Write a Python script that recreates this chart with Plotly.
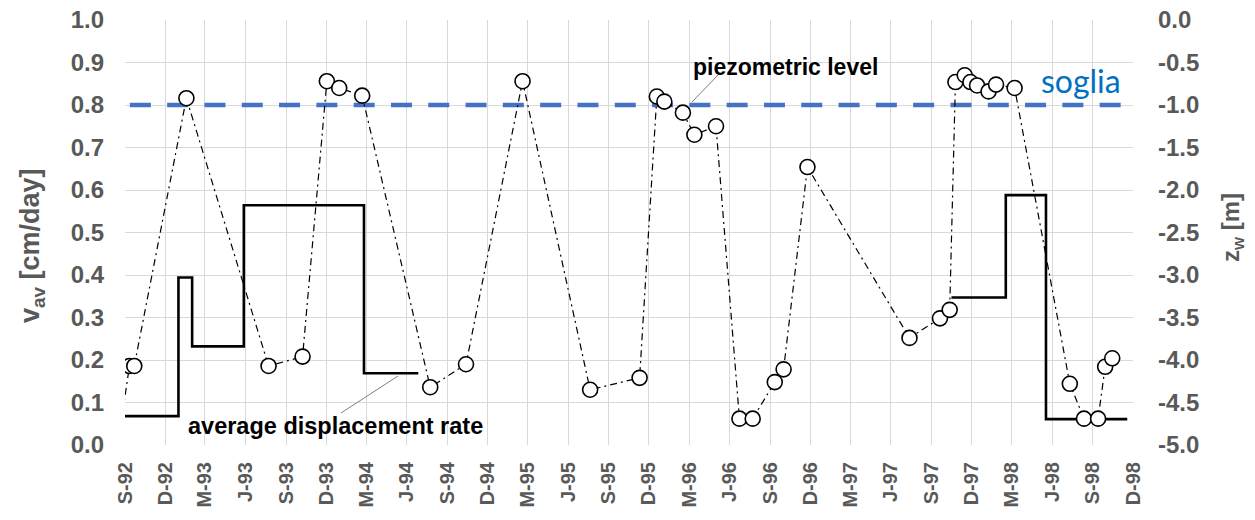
import plotly.graph_objects as go

# ---------------- data ----------------
quarter_ticks = ["1992-09-01", "1992-12-01", "1993-03-01", "1993-06-01", "1993-09-01", "1993-12-01",
                 "1994-03-01", "1994-06-01", "1994-09-01", "1994-12-01", "1995-03-01", "1995-06-01",
                 "1995-09-01", "1995-12-01", "1996-03-01", "1996-06-01", "1996-09-01", "1996-12-01",
                 "1997-03-01", "1997-06-01", "1997-09-01", "1997-12-01", "1998-03-01", "1998-06-01",
                 "1998-09-01", "1998-12-01"]
quarter_labels = ["S-92", "D-92", "M-93", "J-93", "S-93", "D-93", "M-94", "J-94", "S-94", "D-94",
                  "M-95", "J-95", "S-95", "D-95", "M-96", "J-96", "S-96", "D-96", "M-97", "J-97",
                  "S-97", "D-97", "M-98", "J-98", "S-98", "D-98"]

v_ticks = [0.0, 0.1, 0.2, 0.3, 0.4, 0.5, 0.6, 0.7, 0.8, 0.9, 1.0]
v_labels = ["0.0", "0.1", "0.2", "0.3", "0.4", "0.5", "0.6", "0.7", "0.8", "0.9", "1.0"]
z_ticks = [-5.0, -4.5, -4.0, -3.5, -3.0, -2.5, -2.0, -1.5, -1.0, -0.5, 0.0]
z_labels = ["-5.0", "-4.5", "-4.0", "-3.5", "-3.0", "-2.5", "-2.0", "-1.5", "-1.0", "-0.5", "0.0"]

# piezometric level z_w [m]
piezo_dates = ["1992-08-05", "1992-09-11", "1992-09-22", "1993-01-18", "1993-07-23", "1993-10-08",
               "1993-12-02", "1993-12-30", "1994-02-20", "1994-07-24", "1994-10-13", "1995-02-18",
               "1995-07-21", "1995-11-10", "1995-12-19", "1996-01-05", "1996-02-16", "1996-03-13",
               "1996-05-01", "1996-06-23", "1996-07-23", "1996-09-11", "1996-10-01", "1996-11-24",
               "1997-07-13", "1997-09-20", "1997-10-12", "1997-10-25", "1997-11-15", "1997-11-28",
               "1997-12-13", "1998-01-08", "1998-01-25", "1998-03-08", "1998-07-11", "1998-08-12",
               "1998-09-13", "1998-09-29", "1998-10-15"]
piezo_z = [-5.4, -4.07, -4.07, -0.92, -4.07, -3.96,
           -0.72, -0.80, -0.89, -4.32, -4.05, -0.72,
           -4.35, -4.21, -0.90, -0.96, -1.09, -1.35,
           -1.25, -4.69, -4.69, -4.26, -4.11, -1.73,
           -3.74, -3.51, -3.41, -0.73, -0.65, -0.73,
           -0.77, -0.84, -0.76, -0.80, -4.28, -4.69,
           -4.69, -4.08, -3.98]

# average displacement rate v_av [cm/day] (step function, None = gap)
rate_dates = ["1992-09-01", "1992-12-31", "1993-01-31", "1993-05-28", "1994-02-24", "1994-06-27",
              None,
              "1997-10-16", "1998-02-16", "1998-05-18", "1998-11-18"]
rate_values = [0.068, 0.394, 0.232, 0.564, 0.169, 0.169,
               None,
               0.347, 0.588, 0.061, 0.061]

# threshold ("soglia") on piezometric level
soglia_dates = ["1992-09-12", "1998-11-07"]
soglia_z = [-1.0, -1.0]

# ---------------- figure ----------------
W, H = 1255, 520
L, R, T, B = 125, 122, 20, 75
PW, PH = W - L - R, H - T - B


def px(x):
    return (x - L) / PW


def py(y):
    return (H - B - y) / PH


FONT = "Liberation Sans, Arial, sans-serif"
GRAY = "#595959"

fig = go.Figure()

fig.add_trace(go.Scatter(
    x=rate_dates, y=rate_values, mode="lines", line=dict(shape="hv", color="black", width=2.6),
    connectgaps=False, yaxis="y", hoverinfo="skip"))

fig.add_trace(go.Scatter(
    x=soglia_dates, y=soglia_z, mode="lines", yaxis="y2",
    line=dict(color="#4472C4", width=4.5, dash="21px,16.3px"), hoverinfo="skip"))

fig.add_trace(go.Scatter(
    x=piezo_dates, y=piezo_z, mode="lines+markers", yaxis="y2",
    line=dict(color="black", width=1.2, dash="7px,4px,2px,4px"),
    marker=dict(symbol="circle", size=15, color="white", line=dict(color="black", width=1.6)),
    hoverinfo="skip"))

fig.update_layout(
    width=W, height=H, margin=dict(l=L, r=R, t=T, b=B, autoexpand=False),
    plot_bgcolor="white", paper_bgcolor="white", showlegend=False,
    xaxis=dict(type="date", range=[quarter_ticks[0], quarter_ticks[-1]], automargin=False,
               tickmode="array", tickvals=quarter_ticks, ticktext=quarter_labels, tickangle=-90,
               tickfont=dict(family=FONT, size=20, color=GRAY, weight="bold"),
               showgrid=True, gridcolor="#D9D9D9", gridwidth=1, zeroline=False,
               showline=False, ticks="", ticklabelstandoff=12),
    yaxis=dict(range=[0, 1], tickmode="array", tickvals=v_ticks, ticktext=v_labels, automargin=False,
               tickfont=dict(family=FONT, size=24, color=GRAY, weight="bold"),
               showgrid=True, gridcolor="#D9D9D9", gridwidth=1, zeroline=False,
               showline=False, ticks="", ticklabelstandoff=20),
    yaxis2=dict(range=[-5, 0], overlaying="y", side="right", tickmode="array", automargin=False,
                tickvals=z_ticks, ticktext=z_labels,
                tickfont=dict(family=FONT, size=24, color=GRAY, weight="bold"),
                showgrid=False, zeroline=False, showline=False, ticks="", ticklabelstandoff=24),
)

annotations = [
    dict(text="v<sub>av</sub> [cm/day]", x=px(32), y=py(246), textangle=-90,
         font=dict(family=FONT, size=27, color=GRAY, weight="bold")),
    dict(text="z<sub>w</sub> [m]", x=px(1232), y=py(228), textangle=-90,
         font=dict(family=FONT, size=24, color=GRAY, weight="bold")),
    dict(text="piezometric level", x=px(785), y=py(67),
         font=dict(family=FONT, size=23, color="black", weight="bold")),
    dict(text="average displacement rate", x=px(335), y=py(426),
         font=dict(family=FONT, size=23.5, color="black", weight="bold")),
    dict(text="soglia", x=px(1081), y=py(80),
         font=dict(family="Lato, Carlito, sans-serif", size=32, color="#0070C0")),
]
for a in annotations:
    a.update(xref="paper", yref="paper", showarrow=False, xanchor="center", yanchor="middle")
fig.update_layout(annotations=annotations)

leaders = [((720, 73), (692, 102)), ((341, 413), (398, 376))]
for (x0, y0), (x1, y1) in leaders:
    fig.add_shape(type="line", xref="paper", yref="paper", x0=px(x0), y0=py(y0), x1=px(x1), y1=py(y1),
                  line=dict(color="#7F7F7F", width=1))

fig.write_html("out.html", config={"displayModeBar": False},
               post_script="document.body.style.margin='0';document.body.style.overflow='hidden';")
